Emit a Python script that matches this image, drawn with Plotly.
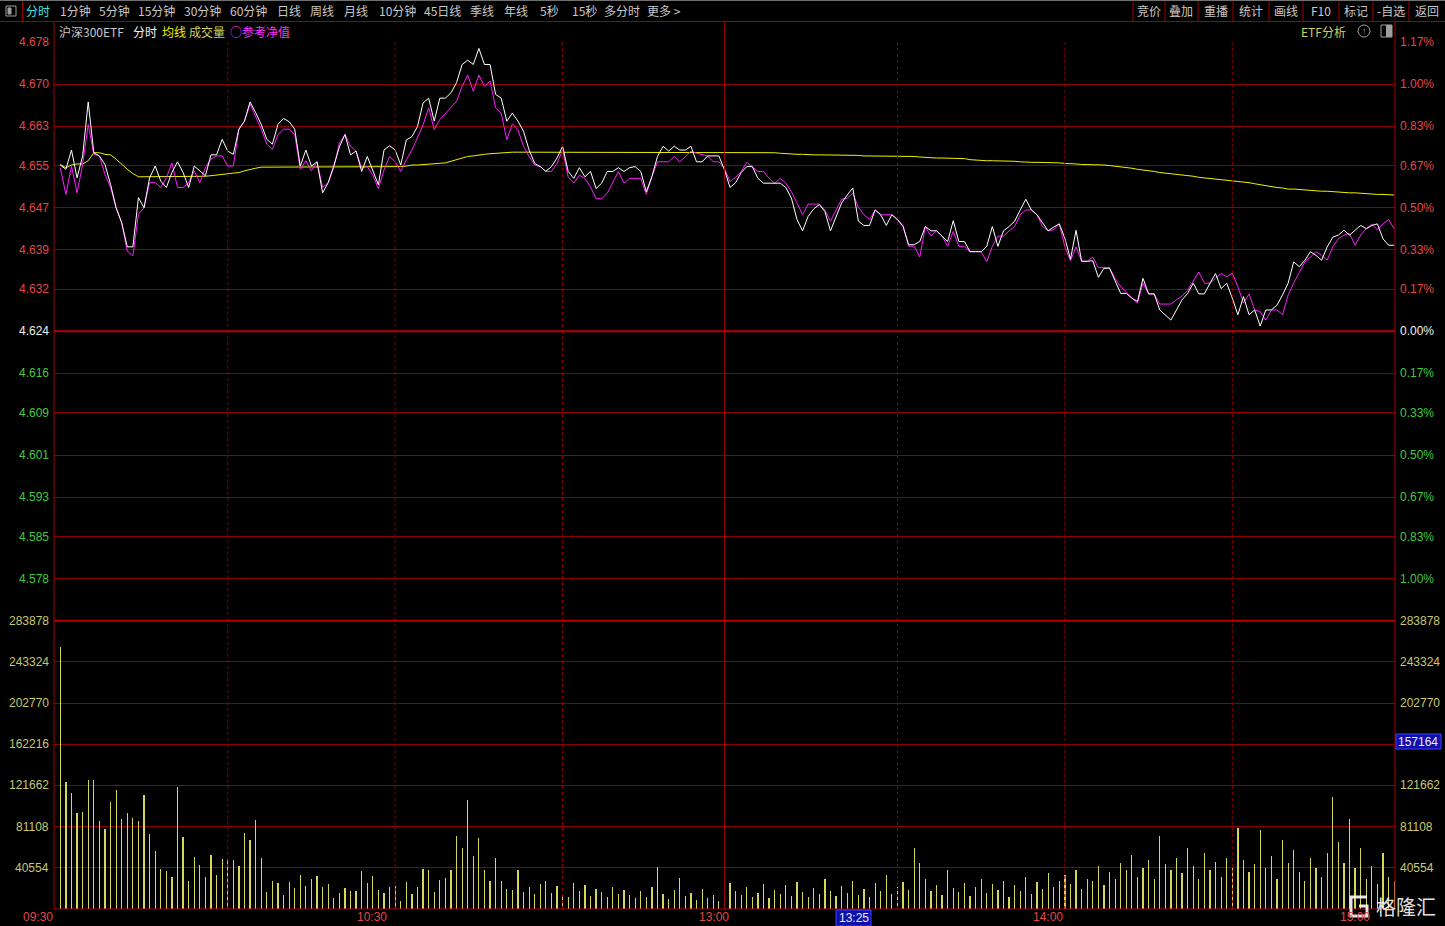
import plotly.graph_objects as go

# ---------------- data ----------------
PRICE = [
    4.6551, 4.6543, 4.6579, 4.6527, 4.6568, 4.6669, 4.6574, 4.6568, 4.6552, 4.6515,
    4.6471, 4.6443, 4.6398, 4.6398, 4.6490, 4.6471, 4.6527, 4.6549, 4.6521, 4.6509,
    4.6537, 4.6557, 4.6537, 4.6509, 4.6549, 4.6540, 4.6531, 4.6570, 4.6570, 4.6599,
    4.6577, 4.6571, 4.6618, 4.6633, 4.6669, 4.6649, 4.6627, 4.6599, 4.6590, 4.6627,
    4.6638, 4.6632, 4.6618, 4.6549, 4.6579, 4.6549, 4.6557, 4.6499, 4.6518, 4.6549,
    4.6585, 4.6608, 4.6570, 4.6577, 4.6539, 4.6567, 4.6539, 4.6514, 4.6579, 4.6587,
    4.6579, 4.6551, 4.6598, 4.6604, 4.6623, 4.6667, 4.6676, 4.6633, 4.6676, 4.6676,
    4.6686, 4.6705, 4.6739, 4.6747, 4.6739, 4.6769, 4.6739, 4.6739, 4.6683, 4.6676,
    4.6633, 4.6648, 4.6633, 4.6614, 4.6579, 4.6554, 4.6548, 4.6539, 4.6548, 4.6564,
    4.6586, 4.6539, 4.6526, 4.6546, 4.6529, 4.6539, 4.6507, 4.6517, 4.6539, 4.6539,
    4.6546, 4.6539, 4.6546, 4.6548, 4.6539, 4.6501, 4.6529, 4.6567, 4.6586, 4.6577,
    4.6586, 4.6579, 4.6579, 4.6586, 4.6557, 4.6557, 4.6568, 4.6568, 4.6568, 4.6542,
    4.6509, 4.6518, 4.6537, 4.6548, 4.6548, 4.6526, 4.6517, 4.6517, 4.6517, 4.6517,
    4.6509, 4.6489, 4.6449, 4.6428, 4.6455, 4.6469, 4.6477, 4.6464, 4.6428, 4.6455,
    4.6480, 4.6495, 4.6508, 4.6446, 4.6438, 4.6438, 4.6467, 4.6458, 4.6438, 4.6458,
    4.6449, 4.6436, 4.6402, 4.6402, 4.6408, 4.6436, 4.6428, 4.6428, 4.6418, 4.6408,
    4.6447, 4.6408, 4.6408, 4.6389, 4.6389, 4.6389, 4.6399, 4.6436, 4.6399, 4.6428,
    4.6436, 4.6446, 4.6467, 4.6487, 4.6467, 4.6458, 4.6443, 4.6428, 4.6435, 4.6441,
    4.6414, 4.6375, 4.6429, 4.6371, 4.6371, 4.6372, 4.6341, 4.6358, 4.6358, 4.6336,
    4.6311, 4.6311, 4.6302, 4.6296, 4.6339, 4.6310, 4.6310, 4.6280, 4.6271, 4.6261,
    4.6280, 4.6299, 4.6311, 4.6330, 4.6310, 4.6310, 4.6330, 4.6348, 4.6320, 4.6330,
    4.6302, 4.6271, 4.6305, 4.6271, 4.6280, 4.6250, 4.6280, 4.6280, 4.6289, 4.6308,
    4.6330, 4.6370, 4.6361, 4.6373, 4.6389, 4.6382, 4.6373, 4.6398, 4.6416, 4.6420,
    4.6429, 4.6420, 4.6429, 4.6438, 4.6432, 4.6438, 4.6441, 4.6413, 4.6401, 4.6401,
]

NAV = [
    4.6546, 4.6496, 4.6549, 4.6499, 4.6552, 4.6627, 4.6571, 4.6568, 4.6534, 4.6509,
    4.6471, 4.6443, 4.6390, 4.6381, 4.6459, 4.6471, 4.6518, 4.6518, 4.6509, 4.6527,
    4.6555, 4.6509, 4.6509, 4.6518, 4.6540, 4.6518, 4.6546, 4.6562, 4.6568, 4.6568,
    4.6549, 4.6549, 4.6618, 4.6633, 4.6665, 4.6643, 4.6618, 4.6590, 4.6580, 4.6608,
    4.6618, 4.6618, 4.6608, 4.6543, 4.6559, 4.6540, 4.6557, 4.6509, 4.6518, 4.6546,
    4.6592, 4.6608, 4.6586, 4.6577, 4.6545, 4.6548, 4.6532, 4.6507, 4.6542, 4.6567,
    4.6557, 4.6539, 4.6561, 4.6579, 4.6601, 4.6626, 4.6658, 4.6617, 4.6636, 4.6648,
    4.6658, 4.6670, 4.6698, 4.6719, 4.6689, 4.6719, 4.6698, 4.6708, 4.6658, 4.6648,
    4.6598, 4.6628, 4.6617, 4.6586, 4.6567, 4.6551, 4.6548, 4.6539, 4.6539, 4.6554,
    4.6579, 4.6529, 4.6517, 4.6532, 4.6526, 4.6510, 4.6488, 4.6488, 4.6498, 4.6520,
    4.6539, 4.6517, 4.6526, 4.6526, 4.6526, 4.6496, 4.6529, 4.6557, 4.6557, 4.6557,
    4.6567, 4.6557, 4.6567, 4.6577, 4.6573, 4.6570, 4.6568, 4.6557, 4.6557, 4.6545,
    4.6520, 4.6528, 4.6539, 4.6556, 4.6548, 4.6539, 4.6539, 4.6526, 4.6517, 4.6526,
    4.6517, 4.6501, 4.6480, 4.6458, 4.6478, 4.6478, 4.6478, 4.6467, 4.6446, 4.6467,
    4.6487, 4.6489, 4.6498, 4.6472, 4.6458, 4.6449, 4.6467, 4.6458, 4.6458, 4.6458,
    4.6449, 4.6438, 4.6399, 4.6399, 4.6379, 4.6436, 4.6418, 4.6428, 4.6418, 4.6399,
    4.6427, 4.6399, 4.6399, 4.6389, 4.6389, 4.6389, 4.6370, 4.6399, 4.6418, 4.6418,
    4.6428, 4.6436, 4.6458, 4.6467, 4.6467, 4.6458, 4.6436, 4.6428, 4.6430, 4.6441,
    4.6398, 4.6372, 4.6398, 4.6371, 4.6371, 4.6379, 4.6359, 4.6359, 4.6359, 4.6339,
    4.6323, 4.6314, 4.6302, 4.6293, 4.6330, 4.6310, 4.6310, 4.6291, 4.6291, 4.6291,
    4.6299, 4.6306, 4.6317, 4.6333, 4.6351, 4.6330, 4.6330, 4.6339, 4.6348, 4.6342,
    4.6349, 4.6323, 4.6293, 4.6310, 4.6280, 4.6277, 4.6261, 4.6280, 4.6280, 4.6271,
    4.6308, 4.6330, 4.6351, 4.6370, 4.6379, 4.6389, 4.6382, 4.6373, 4.6398, 4.6413,
    4.6420, 4.6423, 4.6401, 4.6420, 4.6432, 4.6440, 4.6430, 4.6441, 4.6449, 4.6432,
]

AVG = [
    4.6552, 4.6546, 4.6551, 4.6553, 4.6553, 4.6559, 4.6574, 4.6574, 4.6571, 4.6570,
    4.6562, 4.6552, 4.6543, 4.6535, 4.6529, 4.6529, 4.6529, 4.6529, 4.6529, 4.6529,
    4.6529, 4.6529, 4.6529, 4.6529, 4.6529, 4.6529, 4.6530, 4.6531, 4.6532, 4.6533,
    4.6534, 4.6535, 4.6537, 4.6540, 4.6543, 4.6545, 4.6547, 4.6547, 4.6547, 4.6547,
    4.6548, 4.6548, 4.6548, 4.6548, 4.6548, 4.6548, 4.6548, 4.6548, 4.6548, 4.6548,
    4.6548, 4.6548, 4.6548, 4.6548, 4.6548, 4.6548, 4.6548, 4.6548, 4.6548, 4.6548,
    4.6548, 4.6548, 4.6549, 4.6551, 4.6551, 4.6552, 4.6553, 4.6554, 4.6554, 4.6555,
    4.6558, 4.6561, 4.6564, 4.6567, 4.6568, 4.6570, 4.6571, 4.6572, 4.6573, 4.6574,
    4.6575, 4.6575, 4.6575, 4.6575, 4.6575, 4.6575, 4.6575, 4.6575, 4.6575, 4.6575,
    4.6575, 4.6575, 4.6575, 4.6575, 4.6575, 4.6575, 4.6574, 4.6574, 4.6574, 4.6574,
    4.6574, 4.6574, 4.6574, 4.6574, 4.6574, 4.6574, 4.6574, 4.6574, 4.6574, 4.6574,
    4.6574, 4.6574, 4.6574, 4.6574, 4.6574, 4.6574, 4.6574, 4.6574, 4.6574, 4.6574,
    4.6574, 4.6574, 4.6574, 4.6574, 4.6574, 4.6574, 4.6574, 4.6574, 4.6574, 4.6573,
    4.6572, 4.6571, 4.6571, 4.6571, 4.6570, 4.6570, 4.6570, 4.6570, 4.6570, 4.6570,
    4.6570, 4.6570, 4.6570, 4.6569, 4.6568, 4.6568, 4.6568, 4.6568, 4.6568, 4.6568,
    4.6568, 4.6568, 4.6567, 4.6567, 4.6566, 4.6565, 4.6564, 4.6564, 4.6564, 4.6564,
    4.6564, 4.6564, 4.6563, 4.6561, 4.6560, 4.6560, 4.6559, 4.6559, 4.6559, 4.6559,
    4.6559, 4.6558, 4.6557, 4.6556, 4.6556, 4.6556, 4.6556, 4.6555, 4.6555, 4.6555,
    4.6554, 4.6554, 4.6553, 4.6552, 4.6552, 4.6552, 4.6551, 4.6551, 4.6550, 4.6549,
    4.6547, 4.6546, 4.6545, 4.6543, 4.6542, 4.6540, 4.6539, 4.6537, 4.6536, 4.6534,
    4.6533, 4.6532, 4.6531, 4.6530, 4.6528, 4.6527, 4.6526, 4.6525, 4.6524, 4.6523,
    4.6522, 4.6521, 4.6520, 4.6518, 4.6516, 4.6514, 4.6513, 4.6511, 4.6509, 4.6508,
    4.6506, 4.6506, 4.6505, 4.6504, 4.6504, 4.6503, 4.6502, 4.6502, 4.6501, 4.6500,
    4.6500, 4.6499, 4.6499, 4.6498, 4.6497, 4.6497, 4.6496, 4.6496, 4.6495, 4.6495,
]

VOLUME = [
    258000, 124600, 114100, 94700, 95700, 127200, 127200, 86900, 78700, 105200,
    117400, 88800, 94700, 89500, 86900, 112400, 74100, 57400, 39700, 37700,
    31800, 120600, 71100, 27900, 51500, 43300, 31100, 53400, 33800, 49500,
    49500, 48500, 42600, 75100, 68200, 87900, 50200, 17000, 27900, 25200,
    14100, 26900, 20300, 33800, 22900, 29200, 32800, 22000, 24600, 10500,
    16100, 20300, 18000, 17400, 37700, 25900, 32800, 19000, 15700, 21300,
    22900, 7500, 26200, 14800, 22000, 39700, 38700, 17000, 29000, 31000,
    38000, 72000, 60000, 107000, 52000, 70000, 38000, 28000, 50000, 28000,
    20000, 19000, 38000, 17000, 22000, 15000, 25000, 28000, 16000, 23000,
    14000, 12000, 26000, 18000, 24000, 13000, 20000, 17000, 12000, 22000,
    15000, 19000, 14000, 11000, 18000, 12000, 22000, 41000, 15000, 10000,
    19000, 31000, 13000, 16000, 9000, 20000, 11000, 14000, 8000, 12000,
    26000, 18000, 14000, 22000, 12000, 16000, 25000, 11000, 19000, 15000,
    24000, 13000, 27000, 17000, 12000, 21000, 15000, 30000, 18000, 13000,
    23000, 16000, 28000, 14000, 20000, 12000, 26000, 18000, 33000, 15000,
    22000, 27000, 19000, 60000, 45000, 30000, 18000, 24000, 14000, 38000,
    21000, 17000, 26000, 13000, 22000, 30000, 16000, 25000, 19000, 28000,
    12000, 24000, 18000, 32000, 15000, 27000, 20000, 35000, 22000, 28000,
    33000, 25000, 38000, 20000, 30000, 28000, 42000, 24000, 36000, 30000,
    45000, 38000, 53000, 32000, 40000, 48000, 30000, 72000, 44000, 38000,
    50000, 35000, 60000, 42000, 30000, 55000, 38000, 46000, 32000, 50000,
    40000, 80000, 48000, 36000, 44000, 78000, 40000, 52000, 30000, 68000,
    45000, 58000, 36000, 28000, 50000, 40000, 32000, 55000, 110000, 66000,
    45000, 89000, 40000, 60000, 30000, 42000, 25000, 55000, 32000, 28000,
]

MINUTE = list(range(len(PRICE)))

PRICE_LABELS = ["4.678", "4.670", "4.663", "4.655", "4.647", "4.639", "4.632",
                "4.624", "4.616", "4.609", "4.601", "4.593", "4.585", "4.578"]
PCT_LABELS = ["1.17%", "1.00%", "0.83%", "0.67%", "0.50%", "0.33%", "0.17%",
              "0.00%", "0.17%", "0.33%", "0.50%", "0.67%", "0.83%", "1.00%"]
VOL_LABELS = ["283878", "243324", "202770", "162216", "121662", "81108", "40554"]
TIME_LABELS = ["09:30", "10:30", "13:00", "14:00", "15:00"]
BASE = 4.624
CURSOR_TIME = "13:25"
CURSOR_VOL = "157164"

TOOLBAR_LEFT = ["分时", "1分钟", "5分钟", "15分钟", "30分钟", "60分钟", "日线", "周线", "月线",
                "10分钟", "45日线", "季线", "年线", "5秒", "15秒", "多分时", "更多 >"]
TOOLBAR_RIGHT = ["竞价", "叠加", "重播", "统计", "画线", "F10", "标记", "-自选", "返回"]

# ---------------- layout geometry (pixels) ----------------
W, H = 1445, 926
L, R, T, B = 54, 1395, 42, 909
PW, PH = R - L, B - T
VOL_TOP = 620.7


def px(x):
    return (x - L) / PW


def py(y):
    return (B - y) / PH


RED_GRID = "#900000"
RED_STRONG = "#b80000"
LBL_RED = "#e04848"
LBL_GREEN = "#40c840"
LBL_VOL = "#c8c870"
CJK = "Noto Sans CJK SC"
NUMF = "Liberation Sans"

split = py(VOL_TOP)

# price grid values from the percentage labels (above base: +, below: -)
n_up = PCT_LABELS.index("0.00%")
grid_vals = []
for i, p in enumerate(PCT_LABELS):
    pct = float(p.rstrip("%")) / 100.0
    sign = 1 if i < n_up else -1
    grid_vals.append(BASE * (1 + sign * pct))
top = grid_vals[0]
bottom = BASE - (top - BASE)
vol_vals = [int(s) for s in VOL_LABELS]

fig = go.Figure()

fig.add_trace(go.Bar(x=MINUTE, y=VOLUME, yaxis="y2", width=0.22,
                     marker=dict(color="#d6d65a", line=dict(width=0)),
                     hoverinfo="skip"))
fig.add_trace(go.Scatter(x=MINUTE, y=AVG, mode="lines",
                         line=dict(color="#f0f000", width=1), hoverinfo="skip"))
fig.add_trace(go.Scatter(x=MINUTE, y=NAV, mode="lines",
                         line=dict(color="#ff1cff", width=1), hoverinfo="skip"))
fig.add_trace(go.Scatter(x=MINUTE, y=PRICE, mode="lines",
                         line=dict(color="#ffffff", width=1), hoverinfo="skip"))

fig.update_layout(
    width=W, height=H, autosize=False,
    margin=dict(l=L, r=W - R, t=T, b=H - B, pad=0),
    paper_bgcolor="#000000", plot_bgcolor="#000000",
    showlegend=False, bargap=0,
    xaxis=dict(range=[-1.13, 239.15], showgrid=False, zeroline=False,
               showticklabels=False, ticks="", anchor="y2", fixedrange=True),
    yaxis=dict(domain=[split, 1], range=[bottom, top], tickvals=grid_vals,
               showgrid=True, gridcolor=RED_GRID, gridwidth=1, zeroline=False,
               showticklabels=False, ticks="", fixedrange=True),
    yaxis2=dict(domain=[0, split], range=[0, vol_vals[0]], tickvals=vol_vals,
                showgrid=True, gridcolor=RED_GRID, gridwidth=1, zeroline=False,
                showticklabels=False, ticks="", fixedrange=True),
)

shapes = []
# vertical time grid (dotted) and midday separator (solid)
for m in [30, 60, 90, 150, 180, 210]:
    shapes.append(dict(type="line", xref="x", yref="paper", x0=m, x1=m, y0=0, y1=1,
                       line=dict(color="#8a0000", width=1, dash="dot")))
shapes.append(dict(type="line", xref="x", yref="paper", x0=119, x1=119, y0=0, y1=py(22),
                   line=dict(color="#a00000", width=1)))
# strong horizontal lines: 0% and volume top
shapes.append(dict(type="line", xref="paper", yref="y", x0=0, x1=1, y0=BASE, y1=BASE,
                   line=dict(color=RED_STRONG, width=2)))
shapes.append(dict(type="line", xref="paper", yref="paper", x0=0, x1=1, y0=split, y1=split,
                   line=dict(color=RED_STRONG, width=2)))
# frame
shapes.append(dict(type="line", xref="paper", yref="paper", x0=0, x1=0, y0=0, y1=py(22),
                   line=dict(color="#a00000", width=1)))
shapes.append(dict(type="line", xref="paper", yref="paper", x0=1, x1=1, y0=0, y1=py(22),
                   line=dict(color="#a00000", width=1)))
shapes.append(dict(type="line", xref="paper", yref="paper", x0=0, x1=1, y0=0, y1=0,
                   line=dict(color="#b00000", width=1)))
shapes.append(dict(type="line", xref="paper", yref="paper", x0=px(0), x1=px(W), y0=py(21.5),
                   y1=py(21.5), line=dict(color="#a00000", width=1)))
shapes.append(dict(type="line", xref="paper", yref="paper", x0=px(0), x1=px(W), y0=py(0.5),
                   y1=py(0.5), line=dict(color="#707070", width=1)))
shapes.append(dict(type="line", xref="paper", yref="paper", x0=px(22.5), x1=px(22.5),
                   y0=py(21), y1=py(1), line=dict(color="#a00000", width=1)))
# toolbar separators on the right
for sx in [1133, 1165, 1198, 1233, 1269, 1303, 1339, 1373, 1409]:
    shapes.append(dict(type="line", xref="paper", yref="paper", x0=px(sx), x1=px(sx),
                       y0=py(21), y1=py(1), line=dict(color="#a00000", width=1)))
# small icons
shapes.append(dict(type="rect", xref="paper", yref="paper", x0=px(6), x1=px(16),
                   y0=py(16), y1=py(6), line=dict(color="#a0a0a0", width=1)))
shapes.append(dict(type="rect", xref="paper", yref="paper", x0=px(8), x1=px(11),
                   y0=py(14), y1=py(8), line=dict(color="#a0a0a0", width=1),
                   fillcolor="#a0a0a0"))
shapes.append(dict(type="circle", xref="paper", yref="paper", x0=px(1358), x1=px(1370),
                   y0=py(37), y1=py(25), line=dict(color="#a0a0a0", width=1)))
shapes.append(dict(type="rect", xref="paper", yref="paper", x0=px(1381), x1=px(1392),
                   y0=py(37), y1=py(25), line=dict(color="#a0a0a0", width=1)))
shapes.append(dict(type="rect", xref="paper", yref="paper", x0=px(1386), x1=px(1392),
                   y0=py(37), y1=py(25), line=dict(width=0), fillcolor="#a0a0a0"))
# blue cursor boxes
shapes.append(dict(type="rect", xref="paper", yref="paper", x0=px(1396), x1=px(1441),
                   y0=py(749), y1=py(734), line=dict(color="#4040ff", width=1),
                   fillcolor="#1010a8"))
shapes.append(dict(type="rect", xref="paper", yref="paper", x0=px(836), x1=px(871),
                   y0=py(926), y1=py(910), line=dict(color="#4040ff", width=1),
                   fillcolor="#1010a8"))
# watermark logo (G glyph drawn as a path)
g_pts = [(1367, 897), (1351, 897), (1351, 916), (1367, 916), (1367, 906), (1359, 906)]
g_path = "M " + " L ".join(f"{px(x):.5f},{py(y):.5f}" for x, y in g_pts)
shapes.append(dict(type="path", xref="paper", yref="paper", path=g_path,
                   line=dict(color="rgba(255,255,255,0.9)", width=3)))
fig.update_layout(shapes=shapes)

ann = []


def text(x, y, s, color, size=12, font=NUMF, anchor="left", ref_y="paper"):
    ann.append(dict(x=px(x), y=y if ref_y != "paper" else py(y), xref="paper", yref=ref_y,
                    text=s, showarrow=False, xanchor=anchor, yanchor="middle",
                    font=dict(family=font, size=size, color=color)))


# price labels (left) and percent labels (right)
for i, (s, p) in enumerate(zip(PRICE_LABELS, PCT_LABELS)):
    v = grid_vals[i]
    if i < n_up:
        c = LBL_RED
    elif i > n_up:
        c = LBL_GREEN
    else:
        c = "#f0f0f0"
    text(51, v, s, c, anchor="right", ref_y="y")
    text(1398, v, p, c, anchor="left", ref_y="y")

# volume labels (the right one at 162216 is covered by the cursor box)
for s, v in zip(VOL_LABELS, vol_vals):
    text(51, v, s, LBL_VOL, anchor="right", ref_y="y2")
    if s != "162216":
        text(1398, v, s, LBL_VOL, anchor="left", ref_y="y2")

# time labels (right edge positions)
for s, xr in zip(TIME_LABELS, [55, 389, 731, 1065, 1372]):
    text(xr, 917, s, LBL_RED, anchor="right")

text(853.5, 918, CURSOR_TIME, "#e8e8ff", anchor="center")
text(1418.5, 741.5, CURSOR_VOL, "#e8e8ff", anchor="center")

# toolbar
for s, cx in zip(TOOLBAR_LEFT, [38, 75, 114, 156, 202, 248, 289, 322, 356, 397, 443,
                                482, 516, 549, 584, 622, 664]):
    text(cx, 11, s, "#40e0e0" if s == "分时" else "#c8c8c8", font=CJK, anchor="center")
for s, cx in zip(TOOLBAR_RIGHT, [1149, 1181, 1216, 1251, 1286, 1321, 1356, 1391, 1427]):
    text(cx, 11, s, "#c8c8c8", font=CJK, anchor="center")

# legend row
text(57, 32, "沪深300ETF", "#c8c8c8", font=CJK)
text(131, 32, "分时", "#f0f0f0", font=CJK)
text(160, 32, "均线", "#f0f000", font=CJK)
text(187, 32, "成交量", "#d0d060", font=CJK)
text(228, 32, "○参考净值", "#ff30ff", font=CJK)
text(1348, 32, "ETF分析", "#d0d060", font=CJK, anchor="right")
text(1364, 31, "↑", "#a0a0a0", size=9, anchor="center")

# watermark text
text(1406, 906, "格隆汇", "rgba(255,255,255,0.9)", size=20, font=CJK, anchor="center")

fig.update_layout(annotations=ann)

fig.write_html("out.html", config={"displayModeBar": False, "staticPlot": True},
               post_script="document.body.style.margin='0';document.body.style.overflow='hidden';")
